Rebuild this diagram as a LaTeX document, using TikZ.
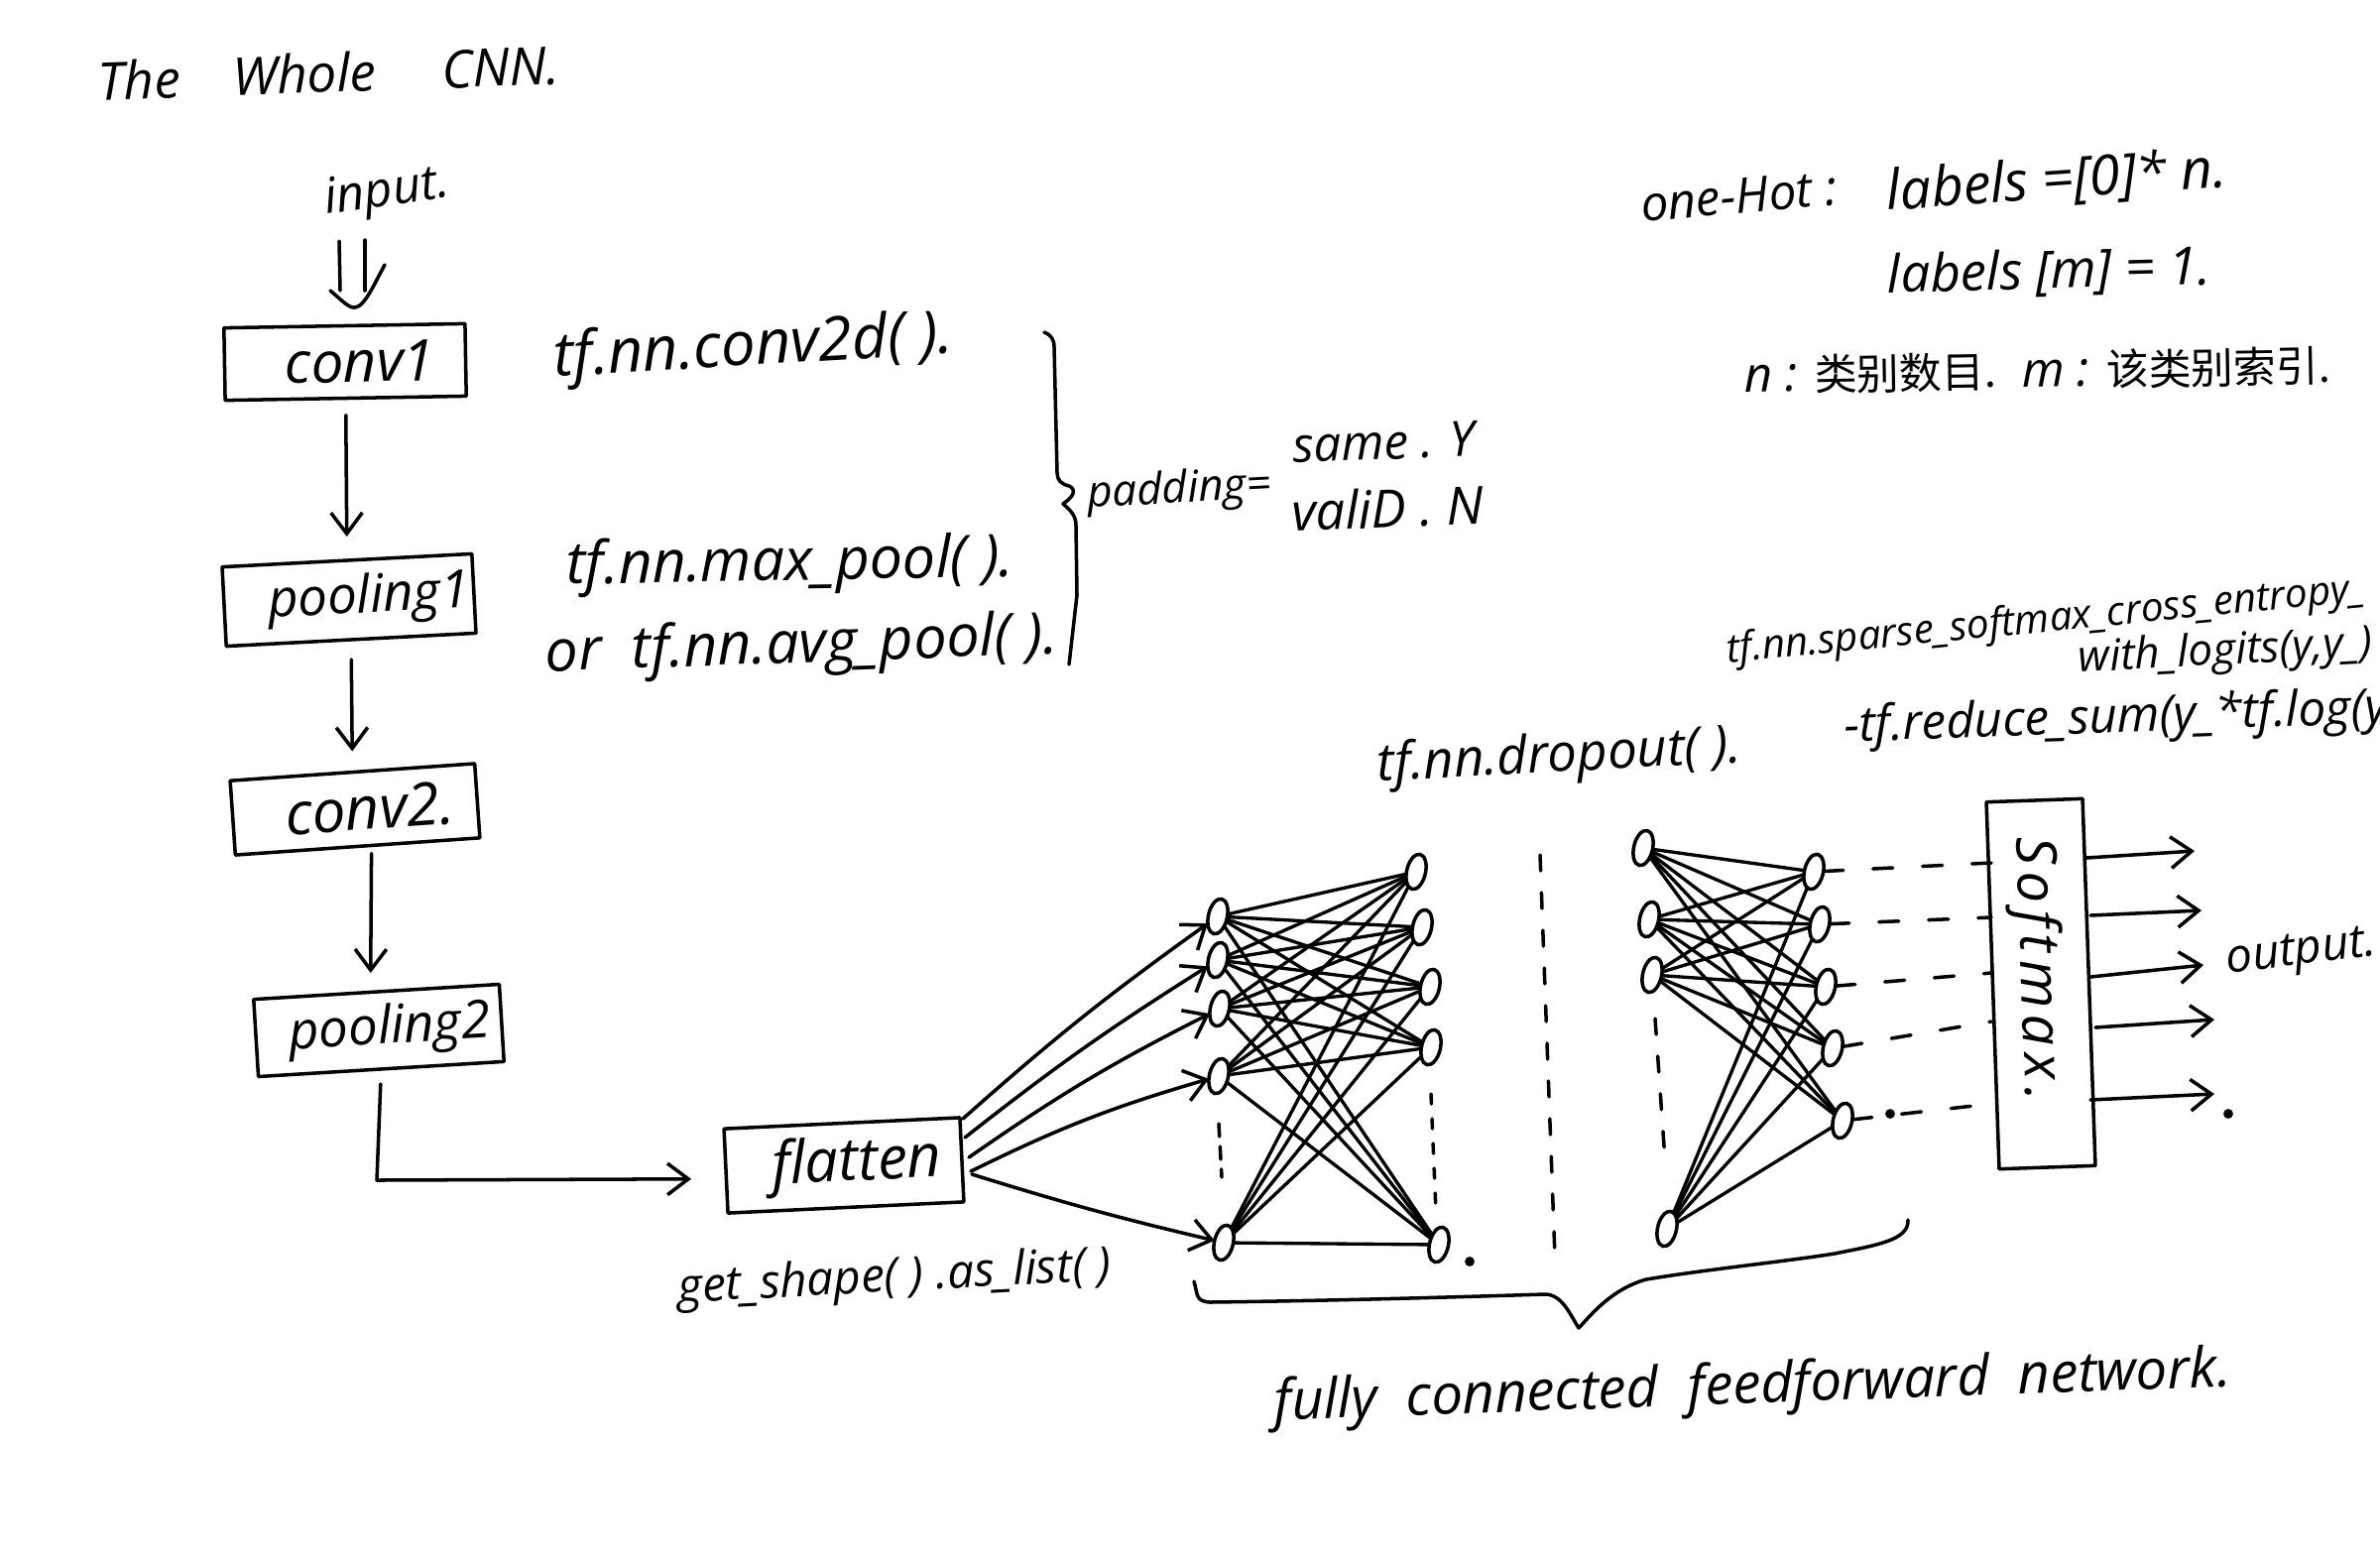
\documentclass[tikz,border=0pt]{standalone}
\usepackage{fontspec}
\setmainfont{Open Sans}
\newfontfamily\cjk{Noto Sans CJK SC}
\usetikzlibrary{arrows.meta,shapes.geometric,calc}
\newcommand{\hw}[1]{\fontsize{#1}{#1}\selectfont\itshape}
\tikzset{
  ink/.style={draw=black,line width=1pt,line cap=round,line join=round},
  arr/.style={ink,-{Straight Barb[length=6pt,width=9pt,line width=1pt]}},
  boxn/.style={ink,rectangle,inner sep=0pt,outer sep=0pt},
  nn/.style={ink,ellipse,inner sep=0pt,outer sep=0pt,minimum width=.19cm,minimum height=.36cm,rotate=-13},
  edge/.style={ink,line width=.95pt},
  dash1/.style={ink,dash pattern=on .2cm off .3cm},
  dots1/.style={ink,dash pattern=on .16cm off .22cm},
  txt/.style={inner sep=0pt,outer sep=0pt,anchor=base,text=black}
}
\begin{document}
\begin{tikzpicture}[x=.01cm,y=-.01cm]
\useasboundingbox (0,0) rectangle (2400,1578);
% boxes
\node[boxn,minimum width=2.43cm,minimum height=.73cm,rotate=1] (conv1) at (348,365) {\hw{16.5}\hspace*{.3cm}conv1};
\node[boxn,minimum width=2.52cm,minimum height=.8cm,rotate=3] (pooling1) at (352,605) {\hw{15}\hspace*{.4cm}pooling1};
\node[boxn,minimum width=2.47cm,minimum height=.75cm,rotate=4] (conv2) at (358,816) {\hw{17}\hspace*{.3cm}conv2.};
\node[boxn,minimum width=2.48cm,minimum height=.78cm,rotate=3.5] (pooling2) at (382,1039) {\hw{15}\hspace*{.22cm}pooling2};
\node[boxn,minimum width=2.38cm,minimum height=.85cm,rotate=2.7] (flatten) at (851,1175) {\hw{17}\hspace*{.26cm}flatten};
\node[boxn,minimum width=3.7cm,minimum height=.97cm,rotate=-88] (sm) at (2058,992) {};
\node[txt,anchor=center,rotate=-88] (smt) at (2053,977) {\hw{16}\addfontfeature{LetterSpace=12}Softmax.};
% titles and notes
\node[txt,rotate=2] (title) at (332,93) {\hw{15}The\quad Whole\quad\ CNN.};
\node[txt,rotate=8] (inp) at (392,207) {\hw{14}input.};
\node[txt,rotate=3.4] (t1) at (761,368) {\hw{17.5}tf.nn.conv2d( ).};
\node[txt,rotate=1] (t2) at (797,585) {\hw{16.8}tf.nn.max\_pool( ).};
\node[txt,rotate=2] (t3) at (809,668) {\hw{16.8}or\ \ tf.nn.avg\_pool( ).};
\node[txt,rotate=3] (pad) at (1190,507) {\hw{12.5}padding=};
\node[txt,rotate=2] (same) at (1396,463) {\hw{14}same . Y};
\node[txt,rotate=2] (valid) at (1400,532) {\hw{15}valiD . N};
\node[txt,rotate=3] (drop) at (1573,778) {\hw{15}tf.nn.dropout( ).};
\node[txt,rotate=5.5] (sp1) at (2064,637) {\hw{11.5}tf.nn.sparse\_softmax\_cross\_entropy\_};
\node[txt,rotate=3] (sp2) at (2245,670) {\hw{12.5}with\_logits(y,y\_)};
\node[txt,rotate=2,anchor=base west] (rs) at (1860,748) {\hw{14}-tf.reduce\_sum(y\_*tf.log(y)};
\node[txt,rotate=7] (outp) at (2322,972) {\hw{13.5}output.};
\node[txt,rotate=5] (oh) at (1755,215) {\hw{14}one-Hot :};
\node[txt,rotate=4] (l1) at (2075,200) {\hw{15.8}labels =[0]* n.};
\node[txt,rotate=1.5] (l2) at (2067,291) {\hw{15}labels [m] = 1.};
\node[txt,rotate=1] (cn) at (2055,390) {\hw{14}n : {\cjk\upshape\fontsize{12.2}{13}\selectfont 类别数目.}\ \ m : {\cjk\upshape\fontsize{12.2}{13}\selectfont 该类别索引.}};
\node[txt,rotate=3] (gs) at (903,1302) {\hw{13.5}get\_shape( ) .as\_list( )};
\node[txt,rotate=2] (fc) at (1768,1415) {\hw{16}fully\ \ connected\ \ feedforward\ \ network.};
% network nodes
\foreach \n/\x/\y in {a1/1228/924,a2/1228/968,a3/1230/1017,a4/1229/1085,a5/1234/1253,
  b1/1428/879,b2/1434/935,b3/1442/995,b4/1443/1056,b5/1451/1255,
  c1/1657/855,c2/1663/927,c3/1666/983,c4/1681/1239,
  d1/1829/879,d2/1835/932,d3/1841/995,d4/1848/1057,d5/1858/1130}
  \node[nn] (\n) at (\x,\y) {};
\foreach \i in {1,...,5} \foreach \j in {1,...,5} \draw[edge] (a\i) -- (b\j);
\foreach \i in {1,...,4} \foreach \j in {1,...,5} \draw[edge] (c\i) -- (d\j);
% input double arrow
\coordinate (i1) at (342,243); \coordinate (i1e) at (343,293);
\coordinate (i2) at (368,242); \coordinate (i2e) at (368,293);
\draw[ink] (i1) -- (i1e);
\draw[ink] (i2) -- (i2e);
\draw[ink] (333,293) .. controls (345,303) and (352,311) .. (358,310) .. controls (368,309) and (378,285) .. (388,267);
% flow arrows
\draw[arr,shorten <=.17cm,shorten >=.24cm] (conv1.south) -- (pooling1.north);
\draw[arr,shorten <=.2cm,shorten >=.21cm] (pooling1.south) -- (conv2.north);
\draw[arr,shorten <=.07cm,shorten >=.19cm] ([xshift=.14cm]conv2.south) -- ([xshift=-.06cm]pooling2.north);
\coordinate (elb) at (380,1190);
\draw[arr,shorten <=.15cm,shorten >=.35cm] (pooling2.south) -- (elb) -- ([yshift=-.08cm]flatten.west);
% flatten to first layer
\foreach \k/\x/\y in {1/971/1128,2/973/1147,3/977/1167,4/979/1181,5/980/1184}
  \coordinate (f\k) at (\x,\y);
\draw[arr] (f1) to[bend left=3] (a1);
\draw[arr] (f2) to[bend left=3] (a2);
\draw[arr] (f3) to[bend left=4] (a3);
\draw[arr] (f4) to[bend left=5] (a4);
\draw[arr] (f5) to[bend right=2] (a5);
% dotted columns
\coordinate (da1) at (1229,1133); \coordinate (da2) at (1232,1187);
\draw[dots1,dash pattern=on .13cm off .1cm] (da1) -- (da2);
\coordinate (db1) at (1443,1103); \coordinate (db2) at (1448,1222);
\draw[dots1,dash pattern=on .1cm off .15cm] (db1) -- (db2);
\coordinate (dm1) at (1553,862); \coordinate (dm2) at (1568,1268);
\draw[dots1] (dm1) -- (dm2);
\coordinate (dc1) at (1669,1027); \coordinate (dc2) at (1679,1170);
\draw[dots1] (dc1) -- (dc2);
\fill (1482,1272) circle (1.4pt);
\fill (1906,1123) circle (1.4pt);
\fill (2247,1123) circle (1.4pt);
% dashes to softmax
\foreach \k/\y in {1/870,2/925,3/981,4/1030,5/1113} \coordinate (e\k) at (2008,\y);
\foreach \k in {1,...,5} \draw[dash1] (d\k) -- (e\k);
% softmax outputs
\foreach \k/\x/\y/\u/\v in {1/2104/865/2213/858,2/2108/923/2220/918,3/2108/985/2222/973,4/2113/1036/2233/1028,5/2108/1109/2233/1103}{
  \coordinate (s\k) at (\x,\y); \coordinate (o\k) at (\u,\v);
  \draw[arr] (s\k) -- (o\k);
}
% right brace
\draw[ink] (1053,335) .. controls (1060,338) and (1063,342) .. (1063,350) -- (1066,477)
  .. controls (1066,484) and (1070,488) .. (1078,490) .. controls (1085,493) and (1084,500) .. (1072,508)
  .. controls (1080,515) and (1085,520) .. (1085,530) -- (1086,600) -- (1078,670);
% big brace
\draw[ink] (1204,1292) .. controls (1208,1305) and (1205,1312) .. (1220,1313)
  .. controls (1300,1312) and (1400,1310) .. (1558,1305)
  .. controls (1575,1305) and (1583,1325) .. (1592,1339)
  .. controls (1605,1325) and (1625,1300) .. (1660,1290)
  .. controls (1720,1280) and (1800,1272) .. (1850,1264)
  .. controls (1895,1255) and (1925,1250) .. (1924,1230);
\end{tikzpicture}
\end{document}
